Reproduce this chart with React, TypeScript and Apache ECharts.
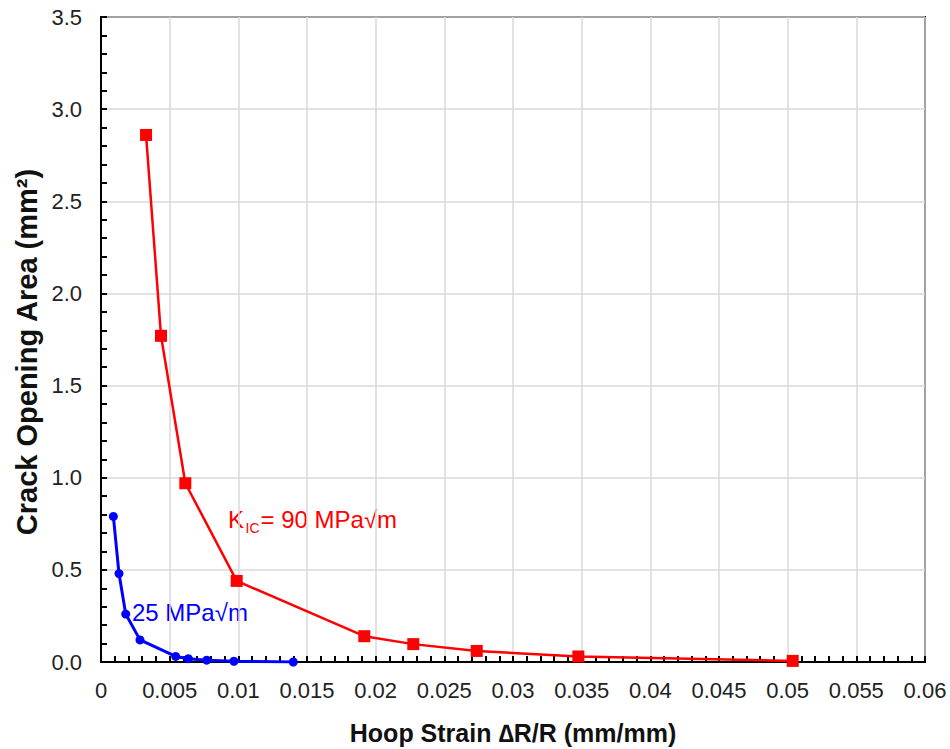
import React, { useEffect, useRef } from "react";
import * as echarts from "echarts";

const redX = [0.00328, 0.00437, 0.00614, 0.00988, 0.01917, 0.02274, 0.02736, 0.03476, 0.05037];
const redY = [2.86, 1.77, 0.97, 0.44, 0.14, 0.097, 0.06, 0.03, 0.006];
const blueX = [0.0009, 0.00131, 0.0018, 0.00284, 0.00544, 0.00636, 0.0077, 0.00968, 0.014];
const blueY = [0.79, 0.48, 0.26, 0.12, 0.03, 0.018, 0.01, 0.004, 0.0];

const xTitle = "Hoop Strain \u2206R/R (mm/mm)";
const yTitle = "Crack Opening Area (mm\u00B2)";

const FONT = "Liberation Sans, Arial, sans-serif";

export default function App() {
  const ref = useRef<HTMLDivElement>(null);
  useEffect(() => {
    if (!ref.current) return;
    const chart = echarts.init(ref.current, null, { renderer: "svg" });
    const axisCommon = {
      axisLine: { show: true, onZero: false, lineStyle: { color: "#000", width: 2 } },
      axisTick: { show: true, inside: true, length: 6, lineStyle: { color: "#000", width: 2 } },
      minorTick: { show: true, splitNumber: 5, length: 6, lineStyle: { color: "#000", width: 2 } },
      splitLine: { show: true, lineStyle: { color: "#d9d9d9", width: 1.5 } },
      axisLabel: { color: "#222", fontSize: 22, fontFamily: FONT },
      nameTextStyle: { color: "#111", fontSize: 25, fontWeight: "bold", fontFamily: FONT },
    };
    chart.setOption({
      animation: false,
      grid: {
        left: 101,
        right: 25,
        top: 17,
        bottom: 87,
        show: true,
        borderColor: "#000",
        borderWidth: 2,
        containLabel: false,
        outerBoundsMode: "none",
      },
      xAxis: {
        type: "value",
        min: 0,
        max: 0.06,
        interval: 0.005,
        name: xTitle,
        nameLocation: "middle",
        nameGap: 58,
        ...axisCommon,
        axisLabel: { ...axisCommon.axisLabel, margin: 17, formatter: (v: number) => (v === 0 ? "0" : String(parseFloat(v.toFixed(4)))) },
      },
      yAxis: {
        type: "value",
        min: 0,
        max: 3.5,
        interval: 0.5,
        ...axisCommon,
        axisLabel: { ...axisCommon.axisLabel, margin: 19, formatter: (v: number) => v.toFixed(1) },
      },
      series: [
        {
          type: "line",
          data: redX.map((x, i) => [x, redY[i]]),
          symbol: "rect",
          symbolSize: 12,
          lineStyle: { color: "#ff0000", width: 2.5 },
          itemStyle: { color: "#ff0000" },
          z: 3,
        },
        {
          type: "line",
          data: blueX.map((x, i) => [x, blueY[i]]),
          symbol: "circle",
          symbolSize: 9,
          lineStyle: { color: "#0000ff", width: 3 },
          itemStyle: { color: "#0000ff" },
          z: 4,
        },
      ],
      graphic: [
        {
          type: "text",
          x: 27,
          y: 352,
          rotation: Math.PI / 2,
          style: { text: yTitle, fill: "#111", fontSize: 29, fontWeight: "bold", fontFamily: FONT, align: "center", verticalAlign: "middle", textAlign: "center", textVerticalAlign: "middle" },
        },
        { type: "text", x: 228, y: 519, style: { text: "K", fill: "#ff0000", fontSize: 24, fontFamily: FONT, verticalAlign: "middle", textVerticalAlign: "middle" } },
        { type: "text", x: 245.5, y: 528, style: { text: "IC", fill: "#ff0000", fontSize: 14, fontFamily: FONT, verticalAlign: "middle", textVerticalAlign: "middle" } },
        { type: "text", x: 260.5, y: 519, style: { text: "= 90 MPa\u221Am", fill: "#ff0000", fontSize: 24, fontFamily: FONT, verticalAlign: "middle", textVerticalAlign: "middle" } },
        { type: "text", x: 132, y: 612, style: { text: "25 MPa\u221Am", fill: "#0000ff", fontSize: 24, fontFamily: FONT, verticalAlign: "middle", textVerticalAlign: "middle" } },
      ],
    });
    return () => chart.dispose();
  }, []);
  return <div ref={ref} style={{ position: "fixed", left: 0, top: 0, width: 950, height: 749, background: "#fff" }} />;
}
